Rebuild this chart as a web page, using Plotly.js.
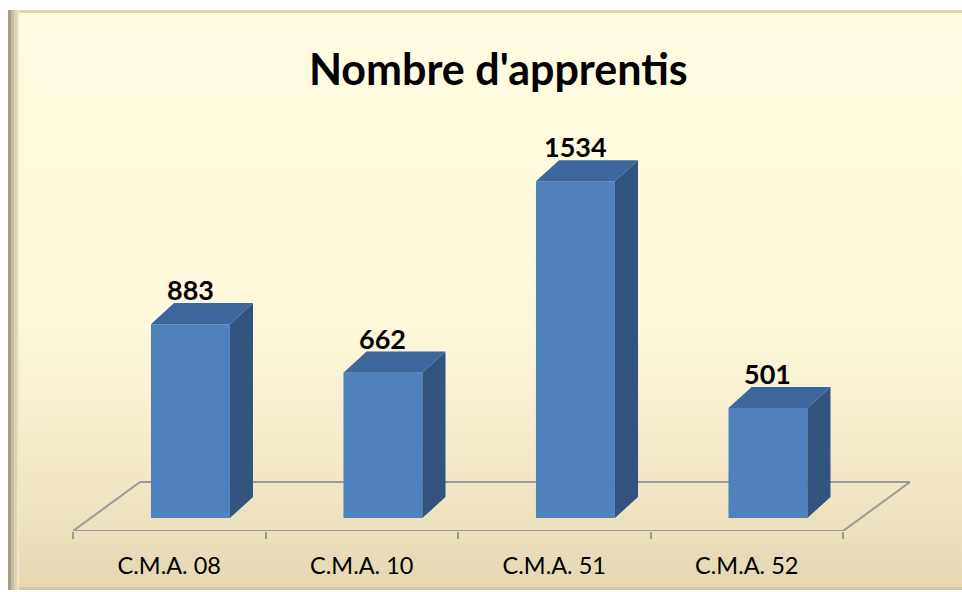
<!DOCTYPE html>
<html>
<head>
<meta charset="utf-8">
<script src="https://cdn.plot.ly/plotly-3.0.1.min.js"></script>
<style>
  body { margin: 0; background: #ffffff; }
  #frame {
    position: absolute; left: 8px; top: 10px; width: 954px; height: 580px;
    background: linear-gradient(to bottom, #fffce1 0%, #fdf8db 55%, #f2e8c8 80%, #e4d7b1 100%);
    box-shadow: inset 3px 0 0 #a59c86, inset 6px 0 0 #c5bb9f, inset 9px 0 0 #ddd3b6,
                inset 11px 0 0 #eee6c8, inset 0 3px 0 #e0d2b3, inset 0 -3px 0 #d4c7a3;
  }
  #chart { position: absolute; left: 0; top: 0; width: 962px; height: 592px; }
</style>
</head>
<body>
<div id="frame"></div>
<div id="chart"></div>
<script>
// data
const categories = ["C.M.A. 08", "C.M.A. 10", "C.M.A. 51", "C.M.A. 52"];
const apprentis = [883, 662, 1534, 501];

// fake 3D depth, in axis units
const barWidth = 0.41;
const barOffset = -0.095;
const depthX = 0.12;
const depthY = 96;
const floorX = 0.348;
const floorY = 164;
const yMin = -59;
const yMax = 1904;

const idx = categories.map((c, i) => i);

const sideX = [], sideY = [], topX = [], topY = [];
apprentis.forEach((v, i) => {
  const xl = i + barOffset;
  const xr = xl + barWidth;
  sideX.push(xr, xr + depthX, xr + depthX, xr, xr, null);
  sideY.push(0, depthY, v + depthY, v, 0, null);
  topX.push(xl, xl + depthX, xr + depthX, xr, xl, null);
  topY.push(v, v + depthY, v + depthY, v, v, null);
});

const front = {
  type: "bar",
  x: idx,
  y: apprentis,
  width: barWidth,
  offset: barOffset,
  marker: { color: "#4f81bd", line: { width: 0 } },
  hoverinfo: "skip"
};
const sides = {
  type: "scatter", mode: "lines", x: sideX, y: sideY,
  fill: "toself", fillcolor: "#32547f", line: { width: 0, color: "#32547f" },
  hoverinfo: "skip"
};
const tops = {
  type: "scatter", mode: "lines", x: topX, y: topY,
  fill: "toself", fillcolor: "#3c669c", line: { width: 0, color: "#3c669c" },
  hoverinfo: "skip"
};

const floorLine = { color: "#9a9a9a", width: 2 };
const left = -0.5, right = categories.length - 0.5;
const shapes = [
  { type: "line", xref: "x", yref: "y", x0: left, y0: yMin, x1: right, y1: yMin, line: floorLine, layer: "below" },
  { type: "line", xref: "x", yref: "y", x0: left + floorX, y0: floorY, x1: right + floorX, y1: floorY, line: floorLine, layer: "below" },
  { type: "line", xref: "x", yref: "y", x0: left, y0: yMin, x1: left + floorX, y1: floorY, line: floorLine, layer: "below" },
  { type: "line", xref: "x", yref: "y", x0: right, y0: yMin, x1: right + floorX, y1: floorY, line: floorLine, layer: "below" }
];

const annotations = apprentis.map((v, i) => ({
  x: i + barOffset + barWidth / 2,
  y: v + depthY,
  xref: "x", yref: "y",
  text: String(v),
  showarrow: false,
  yanchor: "bottom",
  yshift: -5,
  font: { family: "Lato, sans-serif", size: 27, color: "#000000", weight: "bold" }
}));

const boundaries = [];
for (let i = 0; i <= categories.length; i++) boundaries.push(i - 0.5);

const layout = {
  width: 962,
  height: 592,
  margin: { l: 73, r: 52, t: 100, b: 61 },
  paper_bgcolor: "rgba(0,0,0,0)",
  plot_bgcolor: "rgba(0,0,0,0)",
  showlegend: false,
  title: {
    text: "<b>Nombre d'apprentis</b>",
    x: 0.518, xanchor: "center",
    y: 0.882, yanchor: "middle",
    font: { family: "Lato, sans-serif", size: 43, color: "#000000" }
  },
  xaxis: {
    range: [left, right + floorX],
    tickvals: idx,
    ticktext: categories,
    ticks: "",
    showline: false, showgrid: false, zeroline: false,
    tickfont: { family: "Lato, sans-serif", size: 23.5, color: "#000000" },
    ticklabelstandoff: 18,
    fixedrange: true
  },
  xaxis2: {
    overlaying: "x",
    anchor: "y",
    side: "bottom",
    range: [left, right + floorX],
    tickvals: boundaries,
    ticks: "outside", ticklen: 7, tickwidth: 2, tickcolor: "#9a9a9a",
    showticklabels: false, showline: false, showgrid: false, zeroline: false
  },
  yaxis: {
    range: [yMin, yMax],
    visible: false,
    fixedrange: true
  },
  shapes: shapes,
  annotations: annotations
};

const dummy = { type: "scatter", x: [left], y: [yMin], xaxis: "x2", mode: "none", hoverinfo: "skip" };

Plotly.newPlot("chart", [front, sides, tops, dummy], layout, { displayModeBar: false, staticPlot: true });
</script>
</body>
</html>
